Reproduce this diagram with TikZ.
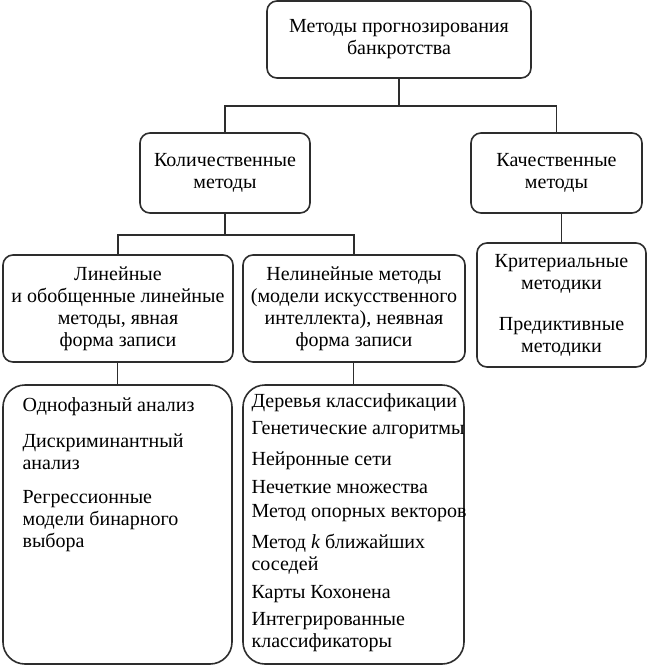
\documentclass[tikz,border=0pt]{standalone}
\usepackage{fontspec}
\setmainfont{Liberation Serif}
\usepackage{tikz}
\usetikzlibrary{
  positioning,
}
\definecolor{linegray}{RGB}{45,45,45}
\tikzstyle{box} = [
  rectangle,
  rounded corners=5pt,
  draw=linegray,
  line width=0.8pt,
  align=center,
  inner sep=0pt,
  font=\fontsize{10}{11}\selectfont,
]
\tikzstyle{bigbox} = [
  rectangle,
  rounded corners=11pt,
  draw=linegray,
  line width=0.8pt,
]
\tikzstyle{list} = [
  align=left,
  inner sep=0pt,
  font=\fontsize{10}{11}\selectfont,
]
\tikzstyle{link} = [
  draw=linegray,
  line width=0.8pt,
]

\begin{document}
\begin{tikzpicture}[x=0.5pt,y=-0.5pt,node distance=0mm and 0mm]
        \useasboundingbox (0,0) rectangle (648,665);

        \node[box,minimum width=132pt,minimum height=38.5pt] (forecast) at (399,39.5) {Методы прогнозирования\\банкротства};
        \node[box,minimum width=85pt,minimum height=40pt] (quant) at (225,173) {Количественные\\методы};
        \node[box,minimum width=85.5pt,minimum height=40pt] (qual) at (556.5,173) {Качественные\\методы};
        \node[box,minimum width=115pt,minimum height=53.5pt] (linear) at (118,308.5) {Линейные\\и обобщенные линейные\\методы, явная\\форма записи};
        \node[box,minimum width=111pt,minimum height=53.5pt] (nonlinear) at (354,308.5) {Нелинейные методы\\(модели искусственного\\интеллекта), неявная\\форма записи};
        \node[box,minimum width=84.5pt,minimum height=62pt] (criteria) at (561.5,305) {Критериальные\\методики\\[9.5pt]Предиктивные\\методики};
        \node[bigbox,minimum width=114.5pt,minimum height=139.5pt] (linlist) at (117.5,524.5) {};
        \node[bigbox,minimum width=110.5pt,minimum height=139.5pt] (nonlinlist) at (353.5,524.5) {};

        \node[list,anchor=north west] (lintext) [below right=6.5pt and 10pt of linlist.north west] {Однофазный анализ\\[7pt]Дискриминантный\\анализ\\[6pt]Регрессионные\\модели бинарного\\выбора};
        \node[list,anchor=north west] (nonlintext) [below right=4.5pt and 4.5pt of nonlinlist.north west] {Деревья классификации\\[2.5pt]Генетические алгоритмы\\[4.5pt]Нейронные сети\\[3pt]Нечеткие множества\\[1pt]Метод опорных векторов\\[4.5pt]Метод \textit{k} ближайших\\соседей\\[3pt]Карты Кохонена\\[2.5pt]Интегрированные\\классификаторы};

        \coordinate (topbus) at (399,106);
        \coordinate (quantbus) at (225,235);

        \draw[link] (forecast.south) -- (topbus);
        \draw[link] (quant.north) |- (topbus) -| (qual.north);
        \draw[link] (quant.south) -- (quantbus);
        \draw[link] (linear.north) |- (quantbus) -| (nonlinear.north);
        \draw[link] (criteria.north |- qual.south) -- (criteria.north);
        \draw[link] (linlist.north |- linear.south) -- (linlist.north);
        \draw[link] (nonlinlist.north |- nonlinear.south) -- (nonlinlist.north);

      \end{tikzpicture}
\end{document}
